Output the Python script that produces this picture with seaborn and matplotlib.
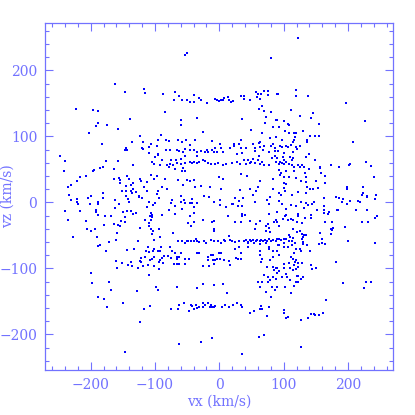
import numpy as np
import pandas as pd
import matplotlib
matplotlib.use("Agg")
import matplotlib.pyplot as plt
import seaborn as sns
from matplotlib.ticker import MultipleLocator

# star velocities (vx, vz) in km/s
upper_left = [
    (-162, 179), (-147, 168), (-117, 172), (-115, 166), (-223, 142), (-197, 140), (-188, 139), (-139, 127),
    (-188, 121), (-191, 116), (-174, 118), (-158, 111), (-202, 105), (-124, 101), (-91, 102), (-183, 89),
    (-136, 92), (-118, 92), (-106, 89), (-95, 94), (-97, 86), (-145, 82), (-146, 79), (-143, 80),
    (-120, 83), (-118, 81), (-110, 84), (-247, 71), (-110, 75), (-96, 74), (-95, 72), (-100, 69),
    (-240, 63), (-176, 63), (-158, 63), (-104, 61), (-102, 58), (-92, 57), (-134, 56), (-242, 48),
    (-197, 48), (-195, 49), (-186, 52), (-181, 54), (-163, 50), (-143, 40), (-217, 38), (-208, 40),
    (-156, 37), (-154, 34), (-164, 36), (-141, 36), (-134, 30), (-124, 36), (-122, 33), (-106, 41),
    (-102, 36), (-97, 40), (-221, 32), (-230, 26), (-235, 24), (-154, 29), (-145, 25), (-138, 26),
    (-134, 21), (-117, 24), (-113, 31), (-151, 17), (-145, 17), (-138, 17), (-136, 14), (-129, 16),
    (-113, 17), (-97, 13), (-95, 17), (-234, 12), (-181, 14), (-145, 10), (-199, 9), (-125, 9),
]

upper_mid = [
    (-53, 224), (-50, 227), (80, 219),
    (-88, 165), (-69, 167), (-62, 161), (-71, 155), (-58, 155), (-51, 155), (-45, 152), (-40, 153),
    (-39, 163), (-31, 158), (-28, 155), (-19, 151), (-7, 157), (-4, 156), (0, 154), (3, 155), (6, 156),
    (8, 158), (13, 160), (15, 155), (18, 153), (21, 154), (33, 162), (39, 162), (39, 157), (48, 156),
    (57, 167), (60, 165), (65, 165), (70, 169), (76, 169), (75, 163), (58, 160), (63, 157), (90, 164),
    (-85, 137), (-59, 125), (-59, 118), (-35, 128), (35, 126), (66, 146), (62, 141), (69, 139), (80, 137),
    (72, 129), (71, 121), (83, 115), (88, 125), (-25, 107), (49, 110), (66, 105), (-83, 94), (-78, 93),
    (-65, 94), (-52, 94), (-38, 94), (-12, 93), (33, 94), (79, 98), (88, 99), (-58, 91), (-45, 87),
    (1, 89), (23, 89), (30, 89), (53, 89), (62, 90), (64, 91), (84, 89),
    (-83, 80), (-76, 79), (-66, 80), (-62, 78), (-53, 81), (-46, 79), (-39, 79), (-19, 80), (-12, 79),
    (-6, 83), (3, 83), (16, 83), (23, 85), (34, 82), (42, 82), (56, 83), (64, 84), (69, 86), (80, 85),
    (87, 83), (-57, 77), (-35, 77), (-28, 78), (-23, 77), (-18, 76), (-8, 77), (-4, 76), (5, 77),
    (27, 74), (36, 75), (56, 78), (68, 79), (78, 77), (86, 78),
    (-89, 65), (-75, 64), (-68, 65), (-59, 66), (-54, 70), (-66, 60), (-60, 59), (-53, 60), (-46, 62),
    (-43, 60), (-39, 61), (-34, 71), (-34, 60), (-31, 61), (-25, 65), (-23, 63), (-17, 60), (-13, 58),
    (-7, 59), (-2, 60), (5, 57), (10, 58), (20, 60), (27, 62), (32, 59), (39, 65), (41, 59), (45, 65),
    (47, 60), (50, 62), (53, 66), (56, 60), (60, 64), (62, 70), (63, 59), (67, 62), (70, 57), (78, 56),
    (82, 67), (86, 71), (88, 61), (-82, 57), (-77, 59), (-72, 57), (-79, 54), (-69, 51), (-56, 52),
    (-58, 47), (-54, 47),
    (-85, 36), (-65, 34), (-51, 34), (-46, 33), (-39, 34), (-1, 39), (6, 36), (34, 43), (43, 40),
    (64, 33), (84, 36), (-89, 23), (-82, 20), (-56, 26), (-38, 23), (-29, 25), (-14, 23), (3, 21),
    (32, 19), (48, 21), (60, 23), (52, 12), (57, 17), (83, 21), (-60, 10), (-24, 10),
]

upper_right = [
    (123, 249), (119, 171), (119, 162), (138, 162), (91, 164), (197, 151), (112, 140), (125, 131),
    (145, 135), (142, 128), (226, 124), (90, 125), (101, 124), (107, 119), (109, 117), (155, 119),
    (93, 115), (102, 108), (108, 106), (116, 106), (119, 105), (130, 109), (118, 99), (141, 101),
    (148, 100), (155, 101), (98, 94), (116, 95), (114, 91), (137, 94), (136, 91), (208, 91), (95, 86),
    (97, 84), (104, 85), (107, 84), (112, 87), (119, 84), (126, 86), (120, 81), (91, 78), (101, 75),
    (114, 76), (140, 74), (90, 68), (99, 69), (110, 69), (114, 67), (135, 69), (148, 64), (100, 65),
    (94, 62), (97, 60), (93, 58), (101, 58), (103, 61), (108, 58), (113, 65), (113, 57), (116, 53),
    (122, 57), (125, 54), (129, 56), (131, 53), (140, 51), (156, 54), (157, 52), (174, 57), (186, 53),
    (202, 57), (203, 58), (228, 61), (236, 55), (93, 49), (103, 48), (96, 45), (94, 41), (101, 39),
    (109, 39), (116, 47), (133, 45), (119, 37), (127, 32), (134, 38), (134, 31), (150, 33), (158, 45),
    (164, 40), (164, 29), (241, 38), (100, 30), (103, 28), (100, 22), (102, 18), (92, 14), (96, 11),
    (113, 11), (122, 16), (134, 15), (136, 23), (141, 20), (146, 20), (154, 22), (198, 24), (199, 21),
    (223, 23), (223, 14), (222, 12), (243, 12), (230, 9),
]

lower_left = [
    (-231, 3), (-221, 5), (-222, 0), (-219, -3), (-204, 6), (-201, -2), (-188, 0), (-189, -3), (-181, 7),
    (-162, 4), (-156, -2), (-142, 5), (-140, 0), (-125, 8), (-120, 7), (-109, 0), (-100, -1), (-94, 7),
    (-240, -13), (-216, -13), (-192, -11), (-192, -15), (-162, -9), (-144, -13), (-150, -15), (-137, -13),
    (-134, -18), (-130, -16), (-113, -7), (-103, -4), (-106, -16), (-105, -19), (-189, -19), (-178, -21),
    (-168, -21), (-146, -22), (-108, -21), (-104, -22), (-236, -26), (-208, -28), (-153, -28), (-146, -30),
    (-116, -26), (-106, -27), (-110, -31), (-180, -34), (-163, -33), (-158, -34), (-155, -36), (-124, -39),
    (-109, -36), (-106, -41), (-206, -40), (-199, -43), (-194, -41), (-159, -46), (-103, -44), (-93, -40),
    (-104, -48), (-228, -52), (-190, -53), (-92, -52), (-171, -60), (-160, -57), (-127, -58), (-101, -57),
    (-185, -64), (-189, -66), (-176, -73), (-144, -72), (-132, -71), (-111, -68), (-114, -73), (-109, -75),
    (-103, -74), (-96, -74), (-92, -73), (-102, -70), (-102, -83), (-105, -85), (-116, -83), (-122, -84),
    (-123, -89), (-122, -91), (-108, -87), (-102, -96), (-111, -95), (-118, -97), (-127, -99), (-135, -96),
    (-142, -95), (-151, -92), (-161, -89), (-159, -99), (-137, -90), (-92, -87), (-94, -91), (-93, -101),
    (-109, -110), (-200, -107), (-198, -122), (-172, -120), (-168, -133), (-188, -143), (-180, -147),
    (-174, -158), (-149, -152), (-128, -135), (-99, -128), (-95, -133), (-108, -157), (-117, -162),
    (-124, -181), (-147, -226),
]

lower_mid = [
    (-73, 4), (-75, -1), (-60, 0), (-55, 4), (-53, -1), (-46, -1), (-43, 5), (-42, -1), (-35, -1),
    (-16, 8), (-8, 1), (1, 4), (1, -4), (10, -7), (21, -2), (24, 7), (29, -6), (31, 2), (37, 6), (35, -5),
    (55, 0), (74, 4), (77, -3), (79, 8), (-89, -19), (-79, -12), (-69, -6), (-69, -17), (-58, -10),
    (-40, -7), (-39, -16), (-45, -21), (-49, -31), (-44, -35), (-39, -30), (-26, -27), (-11, -29),
    (-9, -40), (-8, -43), (-8, -28), (14, -21), (20, -3), (24, -29), (33, -29), (35, -18), (35, -21),
    (40, -19), (48, -28), (57, -32), (56, -41), (63, -28), (73, -35), (75, -32), (77, -39), (78, -17),
    (85, -29), (88, -27), (79, -45), (73, -43), (-72, -47), (15, -51), (9, -58),
    (-64, -59), (-58, -59), (-54, -62), (-51, -58), (-48, -59), (-44, -58), (-40, -59), (-36, -55),
    (-35, -58), (-31, -60), (-24, -59), (-20, -62), (-13, -57), (-8, -59), (-2, -58), (3, -62), (7, -57),
    (16, -57), (19, -58), (25, -60), (30, -59), (38, -58), (42, -57), (44, -60), (47, -57), (50, -59),
    (53, -57), (57, -58), (59, -57), (63, -58), (65, -57), (68, -59), (71, -57), (74, -58), (77, -55),
    (80, -59), (84, -57), (88, -58), (45, -62), (54, -62), (63, -63), (73, -62), (24, -70), (30, -68),
    (44, -68), (64, -73), (77, -68), (78, -71), (83, -73), (89, -73), (-91, -67), (-76, -68), (-74, -73),
    (-69, -76), (-60, -76), (-80, -81), (-86, -81), (-89, -84), (-75, -84), (-66, -82), (-62, -83),
    (-66, -85), (-54, -85), (-47, -85), (-34, -76), (-31, -76), (-18, -82), (-18, -87), (-13, -80),
    (-10, -79), (-10, -88), (-7, -87), (-4, -85), (1, -85), (0, -77), (3, -77), (8, -87), (15, -89),
    (26, -84), (29, -86), (34, -86), (33, -77), (64, -79), (66, -85), (65, -91), (79, -88), (83, -83),
    (-88, -92), (-71, -93), (-66, -94), (-62, -94), (-53, -94), (-25, -97), (-16, -96), (-9, -93),
    (17, -95), (74, -98), (84, -98), (85, -102), (88, -100), (70, -110), (76, -113), (84, -113),
    (88, -116), (79, -117), (75, -121), (66, -120), (60, -121), (64, -128), (73, -136), (82, -128),
    (86, -132), (81, -143), (-66, -128), (-35, -129), (-26, -124), (-8, -125), (6, -124), (12, -138),
    (-75, -161), (-64, -161), (-63, -155), (-55, -153), (-47, -164), (-44, -155), (-43, -157),
    (-39, -162), (-36, -155), (-35, -160), (-32, -158), (-26, -152), (-25, -159), (-22, -156),
    (-18, -153), (-15, -158), (-13, -156), (-11, -159), (-8, -158), (-6, -157), (4, -158), (9, -156),
    (15, -159), (21, -156), (28, -153), (33, -156), (35, -159), (48, -168), (54, -164), (63, -161),
    (65, -157), (66, -162), (78, -159), (74, -172), (-62, -215), (-29, -211), (-11, -206), (36, -230),
    (61, -204), (70, -201),
]

lower_right = [
    (93, 2), (98, -2), (111, -4), (127, 0), (134, -1), (138, -4), (144, -3), (147, 0), (162, 7),
    (162, -6), (163, -11), (181, 8), (186, 7), (190, 1), (193, 5), (198, -3), (203, 2), (215, 2),
    (218, 1), (213, -12), (230, -11), (230, 8), (242, 5), (103, -10), (119, -6), (132, -8), (152, -11),
    (183, -12), (184, -11), (90, -15), (103, -19), (102, -20), (122, -17), (122, -20), (142, -19),
    (163, -16), (169, -17), (171, -15), (99, -25), (107, -26), (112, -25), (115, -27), (90, -29),
    (120, -29), (129, -31), (133, -24), (142, -24), (165, -30), (175, -30), (222, -30), (231, -30),
    (242, -23), (245, -21), (92, -35), (114, -40), (173, -40), (176, -38), (175, -42), (195, -37),
    (121, -45), (125, -44), (108, -50), (110, -53), (115, -54), (129, -48), (132, -50), (134, -50),
    (130, -52), (128, -55), (156, -47), (174, -48), (93, -56), (96, -57), (90, -56), (100, -56),
    (103, -55), (108, -59), (113, -58), (117, -62), (113, -64), (91, -64), (93, -65), (100, -62),
    (101, -68), (107, -67), (119, -71), (126, -70), (127, -74), (130, -60), (130, -63), (137, -65),
    (141, -74), (155, -63), (160, -61), (160, -55), (164, -63), (200, -58), (242, -61), (93, -80),
    (116, -76), (115, -85), (112, -83), (119, -87), (122, -92), (118, -90), (109, -92), (116, -95),
    (119, -101), (123, -98), (128, -92), (110, -99), (100, -93), (100, -100), (90, -99), (92, -104),
    (90, -107), (104, -108), (115, -103), (142, -95), (144, -101), (150, -100), (181, -90), (98, -113),
    (105, -113), (121, -112), (122, -111), (130, -113), (127, -116), (122, -120), (119, -120),
    (110, -117), (90, -128), (102, -128), (116, -127), (112, -137), (192, -122), (228, -120),
    (236, -121), (225, -129), (166, -148), (100, -163), (101, -168), (104, -175), (106, -174),
    (127, -178), (138, -175), (142, -169), (147, -169), (149, -171), (155, -170), (161, -168),
    (127, -219),
]

regions = [upper_left, upper_mid, upper_right, lower_left, lower_mid, lower_right]
df = pd.DataFrame([p for r in regions for p in r], columns=["vx", "vz"])

axcol = "#7272ff"

sns.set_style("ticks")
plt.rcParams["font.family"] = ["DejaVu Serif"]

fig = plt.figure(figsize=(4.15, 4.15), dpi=100)
ax = fig.add_axes([45 / 415, 45 / 415, 348 / 415, 347 / 415])

sns.scatterplot(data=df, x="vx", y="vz", ax=ax, marker="s", s=4,
                color="#0000ff", linewidth=0, legend=False)

ax.set_xlim(-271, 270)
ax.set_ylim(-254, 272)
ax.xaxis.set_major_locator(MultipleLocator(100))
ax.xaxis.set_minor_locator(MultipleLocator(20))
ax.yaxis.set_major_locator(MultipleLocator(100))
ax.yaxis.set_minor_locator(MultipleLocator(20))
ax.tick_params(which="both", direction="in", top=True, right=True,
               color=axcol, labelcolor=axcol, labelsize=10, width=0.8, pad=5.5)
ax.tick_params(which="major", length=6)
ax.tick_params(which="minor", length=3)
for s in ax.spines.values():
    s.set_color(axcol)
    s.set_linewidth(0.9)

ax.set_xlabel("vx (km/s)", fontsize=10, color=axcol, va="center")
ax.set_ylabel("vz (km/s)", fontsize=10, color=axcol, va="center")
ax.xaxis.set_label_coords(0.5, -0.092)
ax.yaxis.set_label_coords(-0.106, 0.5)

fig.savefig("out.png", dpi=100, facecolor="white")
